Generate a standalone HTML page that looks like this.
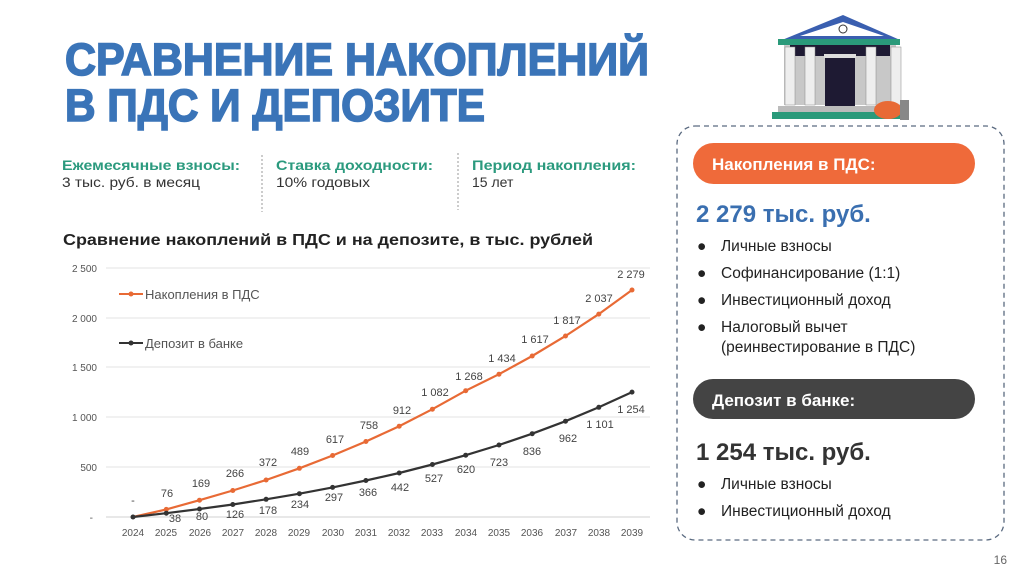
<!DOCTYPE html>
<html><head><meta charset="utf-8"><style>
html,body{margin:0;padding:0;background:#fff;}
svg{display:block;font-family:"Liberation Sans","DejaVu Sans",sans-serif;}
</style></head><body>
<svg width="1024" height="576" viewBox="0 0 1024 576" xmlns="http://www.w3.org/2000/svg">
<rect width="1024" height="576" fill="#fff"/>
<!-- Title -->
<text x="65" y="75" font-size="45" font-weight="bold" fill="#3a74b8" stroke="#3a74b8" stroke-width="1.6" textLength="584" lengthAdjust="spacingAndGlyphs">СРАВНЕНИЕ НАКОПЛЕНИЙ</text>
<text x="65" y="121" font-size="45" font-weight="bold" fill="#3a74b8" stroke="#3a74b8" stroke-width="1.6" textLength="420" lengthAdjust="spacingAndGlyphs">В ПДС И ДЕПОЗИТЕ</text>
<!-- Info -->
<g font-size="14">
<text x="62" y="170" fill="#2b9a7e" font-weight="bold" textLength="178" lengthAdjust="spacingAndGlyphs">Ежемесячные взносы:</text>
<text x="62" y="187" fill="#333" textLength="138" lengthAdjust="spacingAndGlyphs">3 тыс. руб. в месяц</text>
<text x="276" y="170" fill="#2b9a7e" font-weight="bold" textLength="157" lengthAdjust="spacingAndGlyphs">Ставка доходности:</text>
<text x="276" y="187" fill="#333" textLength="94" lengthAdjust="spacingAndGlyphs">10% годовых</text>
<text x="472" y="170" fill="#2b9a7e" font-weight="bold" textLength="164" lengthAdjust="spacingAndGlyphs">Период накопления:</text>
<text x="472" y="187" fill="#333">15 лет</text>
</g>
<line x1="262" y1="155" x2="262" y2="212" stroke="#999" stroke-dasharray="2,2"/>
<line x1="458" y1="153" x2="458" y2="210" stroke="#999" stroke-dasharray="2,2"/>
<text x="63" y="245" font-size="16" font-weight="bold" fill="#222" textLength="530" lengthAdjust="spacingAndGlyphs">Сравнение  накоплений в ПДС и на депозите, в тыс. рублей</text>
<!-- chart grid -->
<g stroke="#e3e3e3" stroke-width="1">
<line x1="106" y1="268" x2="650" y2="268"/>
<line x1="106" y1="318" x2="650" y2="318"/>
<line x1="106" y1="367" x2="650" y2="367"/>
<line x1="106" y1="417" x2="650" y2="417"/>
<line x1="106" y1="467" x2="650" y2="467"/>
<line x1="106" y1="517" x2="650" y2="517" stroke="#d0d0d0"/>
</g>
<g font-size="10" fill="#555" text-anchor="end">
<text x="97" y="272">2 500</text><text x="97" y="322">2 000</text><text x="97" y="371">1 500</text>
<text x="97" y="421">1 000</text><text x="97" y="471">500</text><text x="93" y="521">-</text>
</g>
<g font-size="10" fill="#555" text-anchor="middle">
<text x="133" y="536">2024</text><text x="166" y="536">2025</text><text x="200" y="536">2026</text><text x="233" y="536">2027</text>
<text x="266" y="536">2028</text><text x="299" y="536">2029</text><text x="333" y="536">2030</text><text x="366" y="536">2031</text>
<text x="399" y="536">2032</text><text x="432" y="536">2033</text><text x="466" y="536">2034</text><text x="499" y="536">2035</text>
<text x="532" y="536">2036</text><text x="566" y="536">2037</text><text x="599" y="536">2038</text><text x="632" y="536">2039</text>
</g>
<polyline fill="none" stroke="#e86a35" stroke-width="2.2" points="133,517 166.3,509.4 199.5,500.2 232.8,490.5 266.1,480 299.4,468.3 332.6,455.5 365.9,441.5 399.2,426.2 432.4,409.2 465.7,390.7 499,374.2 532.2,356 565.5,336 598.8,314.1 632,290"/>
<polyline fill="none" stroke="#333" stroke-width="2.2" points="133,517 166.3,513.2 199.5,509 232.8,504.5 266.1,499.3 299.4,493.7 332.6,487.4 365.9,480.5 399.2,473 432.4,464.5 465.7,455.2 499,445 532.2,433.7 565.5,421.2 598.8,407.3 632,392.1"/>
<g fill="#e86a35">
<circle cx="166.3" cy="509.4" r="2.5"/><circle cx="199.5" cy="500.2" r="2.5"/><circle cx="232.8" cy="490.5" r="2.5"/><circle cx="266.1" cy="480" r="2.5"/><circle cx="299.4" cy="468.3" r="2.5"/><circle cx="332.6" cy="455.5" r="2.5"/><circle cx="365.9" cy="441.5" r="2.5"/><circle cx="399.2" cy="426.2" r="2.5"/><circle cx="432.4" cy="409.2" r="2.5"/><circle cx="465.7" cy="390.7" r="2.5"/><circle cx="499" cy="374.2" r="2.5"/><circle cx="532.2" cy="356" r="2.5"/><circle cx="565.5" cy="336" r="2.5"/><circle cx="598.8" cy="314.1" r="2.5"/><circle cx="632" cy="290" r="2.5"/>
</g>
<g fill="#333">
<circle cx="133" cy="517" r="2.5"/><circle cx="166.3" cy="513.2" r="2.5"/><circle cx="199.5" cy="509" r="2.5"/><circle cx="232.8" cy="504.5" r="2.5"/><circle cx="266.1" cy="499.3" r="2.5"/><circle cx="299.4" cy="493.7" r="2.5"/><circle cx="332.6" cy="487.4" r="2.5"/><circle cx="365.9" cy="480.5" r="2.5"/><circle cx="399.2" cy="473" r="2.5"/><circle cx="432.4" cy="464.5" r="2.5"/><circle cx="465.7" cy="455.2" r="2.5"/><circle cx="499" cy="445" r="2.5"/><circle cx="532.2" cy="433.7" r="2.5"/><circle cx="565.5" cy="421.2" r="2.5"/><circle cx="598.8" cy="407.3" r="2.5"/><circle cx="632" cy="392.1" r="2.5"/>
</g>
<g font-size="11" fill="#444" text-anchor="middle">
<text x="133" y="504">-</text><text x="167" y="497">76</text><text x="201" y="487">169</text><text x="235" y="477">266</text>
<text x="268" y="466">372</text><text x="300" y="455">489</text><text x="335" y="443">617</text><text x="369" y="429">758</text>
<text x="402" y="414">912</text><text x="435" y="396">1 082</text><text x="469" y="380">1 268</text><text x="502" y="362">1 434</text>
<text x="535" y="343">1 617</text><text x="567" y="324">1 817</text><text x="599" y="302">2 037</text><text x="631" y="278">2 279</text>
<text x="175" y="522">38</text><text x="202" y="520">80</text><text x="235" y="518">126</text><text x="268" y="514">178</text>
<text x="300" y="508">234</text><text x="334" y="501">297</text><text x="368" y="496">366</text><text x="400" y="491">442</text>
<text x="434" y="482">527</text><text x="466" y="473">620</text><text x="499" y="466">723</text><text x="532" y="455">836</text>
<text x="568" y="442">962</text><text x="600" y="428">1 101</text><text x="631" y="413">1 254</text>
</g>
<!-- legend -->
<line x1="119" y1="294" x2="143" y2="294" stroke="#e86a35" stroke-width="2"/><circle cx="131" cy="294" r="2.5" fill="#e86a35"/>
<text x="145" y="299" font-size="13" fill="#555">Накопления в ПДС</text>
<line x1="119" y1="343" x2="143" y2="343" stroke="#333" stroke-width="2"/><circle cx="131" cy="343" r="2.5" fill="#333"/>
<text x="145" y="348" font-size="13" fill="#555">Депозит в банке</text>
<!-- Bank icon -->
<g>
<polygon points="782,40 843,15 900,40" fill="#3a5fb0"/>
<polygon points="800,36 843,22 884,36" fill="#fff"/>
<circle cx="843" cy="29" r="4" fill="none" stroke="#333"/>
<rect x="778" y="39" width="122" height="6" fill="#2a9a7a"/>
<rect x="784" y="45" width="112" height="60" fill="#c8c8c8"/>
<rect x="790" y="45" width="100" height="11" fill="#1e1a33"/>
<rect x="825" y="58" width="30" height="50" fill="#1e1a33"/>
<rect x="824" y="54" width="32" height="4" fill="#ddd"/>
<rect x="785" y="47" width="10" height="58" fill="#eee" stroke="#888" stroke-width="0.5"/>
<rect x="805" y="47" width="10" height="58" fill="#eee" stroke="#888" stroke-width="0.5"/>
<rect x="866" y="47" width="10" height="58" fill="#eee" stroke="#888" stroke-width="0.5"/>
<rect x="891" y="47" width="10" height="58" fill="#eee" stroke="#888" stroke-width="0.5"/>
<rect x="772" y="112" width="135" height="7" fill="#2a9a7a"/>
<rect x="778" y="106" width="125" height="6" fill="#bbb"/>
<ellipse cx="888" cy="110" rx="14" ry="9" fill="#e86a35"/>
<rect x="900" y="100" width="9" height="20" fill="#888"/>
</g>
<!-- right box -->
<rect x="677" y="126" width="327" height="414" rx="18" fill="none" stroke="#5a6a80" stroke-width="1.3" stroke-dasharray="5,4"/>
<rect x="693" y="143" width="282" height="41" rx="20.5" fill="#ef6a3a"/>
<text x="712" y="170" font-size="17" font-weight="bold" fill="#fff">Накопления в ПДС:</text>
<text x="696" y="222" font-size="24" font-weight="bold" fill="#3a6fb0">2 279 тыс. руб.</text>
<g font-size="15.5" fill="#222">
<text x="697" y="251">●</text><text x="721" y="251">Личные взносы</text>
<text x="697" y="278">●</text><text x="721" y="278">Софинансирование (1:1)</text>
<text x="697" y="305">●</text><text x="721" y="305">Инвестиционный доход</text>
<text x="697" y="332">●</text><text x="721" y="332">Налоговый вычет</text>
<text x="721" y="352">(реинвестирование в ПДС)</text>
</g>
<rect x="693" y="379" width="282" height="40" rx="20" fill="#444"/>
<text x="712" y="406" font-size="17" font-weight="bold" fill="#fff">Депозит в банке:</text>
<text x="696" y="460" font-size="24" font-weight="bold" fill="#333">1 254 тыс. руб.</text>
<g font-size="15.5" fill="#222">
<text x="697" y="489">●</text><text x="721" y="489">Личные взносы</text>
<text x="697" y="516">●</text><text x="721" y="516">Инвестиционный доход</text>
</g>
<text x="1007" y="564" font-size="12" fill="#666" text-anchor="end">16</text>
</svg>
</body></html>
